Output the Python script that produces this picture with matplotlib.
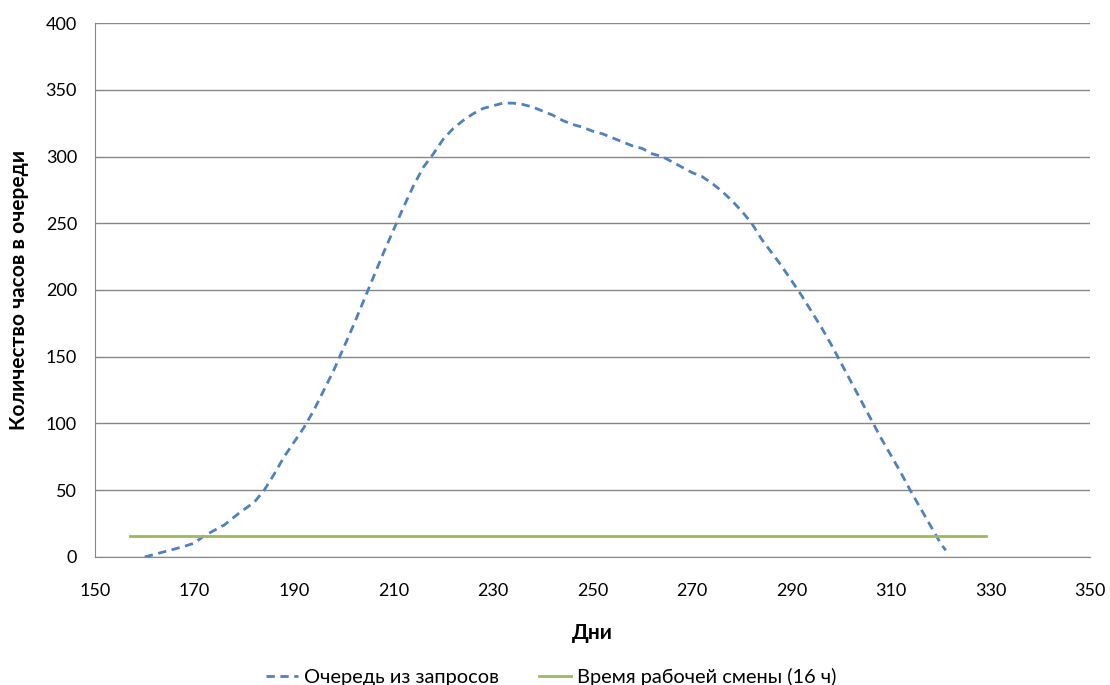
import numpy as np
import matplotlib.pyplot as plt

plt.rcParams['font.family'] = ['Lato', 'Open Sans', 'DejaVu Sans']

# Очередь из запросов (часы), по дням
days = [160, 164, 168, 170, 172, 174, 176, 179, 182, 184, 186, 188, 190, 192,
        194, 196, 198, 200, 202, 204, 206, 208, 210, 212, 214, 216, 218, 220,
        222, 224, 226, 228, 230, 232, 234, 236, 238, 240, 242, 244, 246, 248,
        250, 252, 254, 256, 258, 260, 262, 264, 266, 268, 270, 272, 274, 276,
        278, 280, 282, 284, 286, 288, 290, 292, 294, 296, 298, 300, 302, 304,
        306, 308, 310, 312, 314, 316, 318, 320, 321]
queue = [0, 4, 8, 10.5, 16, 20, 24, 33, 41, 50, 62, 75, 86, 97,
         110, 125, 140, 157, 174, 192, 210, 228, 245, 262, 278, 292, 302, 313,
         321, 327, 332, 336, 338, 340, 340, 339, 337, 334, 331, 327, 324, 322,
         319, 317, 314, 311, 308, 306, 302, 300, 296, 292, 288, 285, 280, 274,
         267, 259, 250, 238, 228, 218, 207, 196, 184, 172, 159, 145, 131, 117,
         103, 89, 76, 63, 49, 36, 23, 10, 5]

# Время рабочей смены (16 ч)
shift_days = [157, 329]
shift_hours = [16, 16]

fig = plt.figure(figsize=(11.1, 6.85), dpi=100)
ax = fig.add_axes([0.0856, 0.1869, 0.8964, 0.7795])

ax.plot(days, queue, color='#4F81BD', linewidth=2, linestyle=(0, (3, 2)),
        label='Очередь из запросов')
ax.plot(shift_days, shift_hours, color='#9BBB59', linewidth=2,
        label='Время рабочей смены (16 ч)')

ax.set_xlim(150, 350)
ax.set_ylim(0, 400)
ax.set_xticks(np.arange(150, 351, 20))
ax.set_yticks(np.arange(0, 401, 50))
ax.grid(axis='y', color='#868686', linewidth=1)
ax.set_axisbelow(True)
for side in ['top', 'right']:
    ax.spines[side].set_visible(False)
for side in ['left', 'bottom']:
    ax.spines[side].set_color('#868686')
ax.tick_params(axis='both', length=0, labelsize=13, colors='black')
ax.tick_params(axis='y', pad=13)
ax.tick_params(axis='x', pad=19)

ax.set_xlabel('Дни', fontsize=15, fontweight='bold', labelpad=17)
ax.set_ylabel('Количество часов в очереди', fontsize=15, fontweight='bold', labelpad=12)

fig.legend(loc='lower center', bbox_to_anchor=(0.497, -0.028), ncol=2,
           frameon=False, fontsize=14.4, handlelength=1.6, handletextpad=0.3,
           columnspacing=2.0)

fig.savefig('out.png', dpi=100)
